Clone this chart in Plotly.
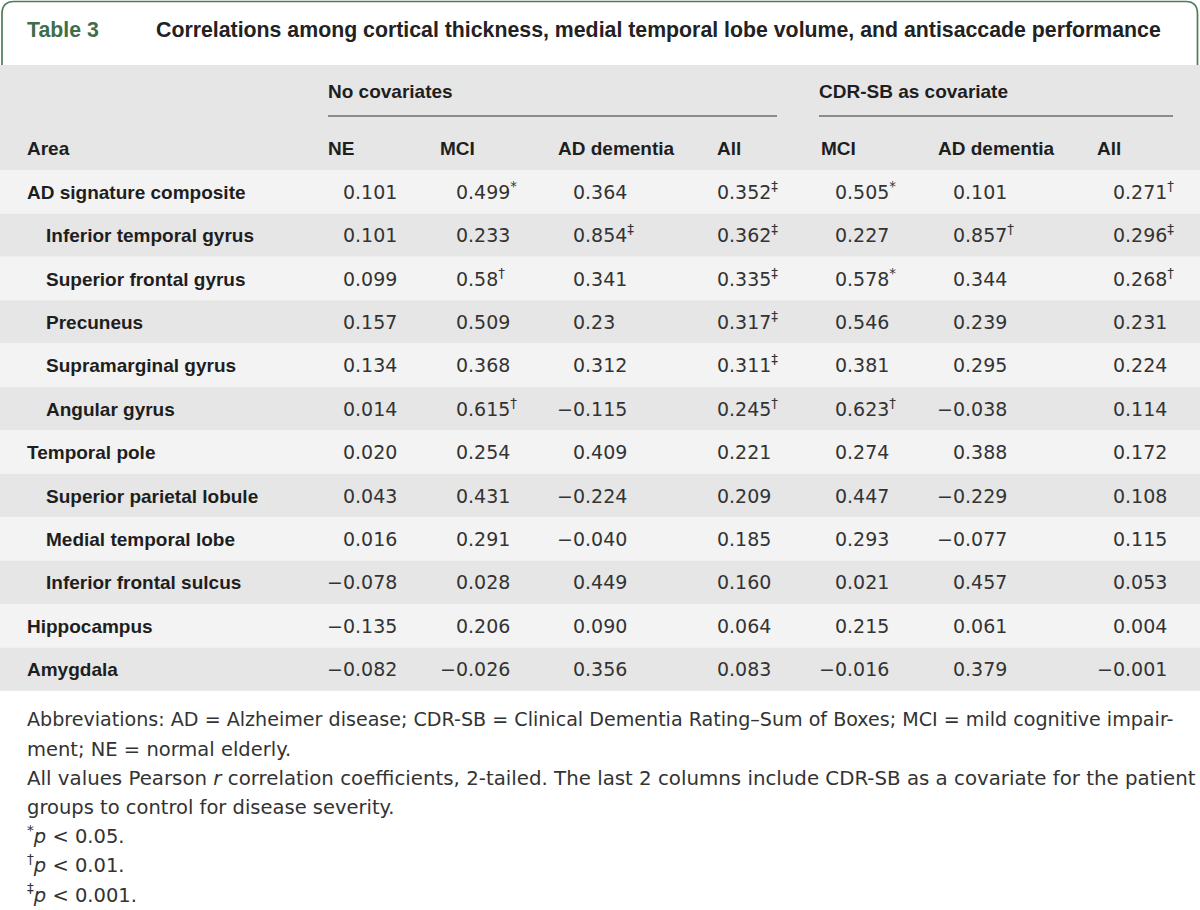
import plotly.graph_objects as go

# ---------------- data ----------------
areas = [
    "AD signature composite", "Inferior temporal gyrus", "Superior frontal gyrus",
    "Precuneus", "Supramarginal gyrus", "Angular gyrus", "Temporal pole",
    "Superior parietal lobule", "Medial temporal lobe", "Inferior frontal sulcus",
    "Hippocampus", "Amygdala",
]
area_level = [0, 1, 1, 1, 1, 1, 0, 1, 1, 1, 0, 0]

ne = ["0.101", "0.101", "0.099", "0.157", "0.134", "0.014", "0.020", "0.043", "0.016", "-0.078", "-0.135", "-0.082"]
mci = ["0.499*", "0.233", "0.58†", "0.509", "0.368", "0.615†", "0.254", "0.431", "0.291", "0.028", "0.206", "-0.026"]
ad_dementia = ["0.364", "0.854‡", "0.341", "0.23", "0.312", "-0.115", "0.409", "-0.224", "-0.040", "0.449", "0.090", "0.356"]
all_groups = ["0.352‡", "0.362‡", "0.335‡", "0.317‡", "0.311‡", "0.245†", "0.221", "0.209", "0.185", "0.160", "0.064", "0.083"]
cdr_mci = ["0.505*", "0.227", "0.578*", "0.546", "0.381", "0.623†", "0.274", "0.447", "0.293", "0.021", "0.215", "-0.016"]
cdr_ad_dementia = ["0.101", "0.857†", "0.344", "0.239", "0.295", "-0.038", "0.388", "-0.229", "-0.077", "0.457", "0.061", "0.379"]
cdr_all = ["0.271†", "0.296‡", "0.268†", "0.231", "0.224", "0.114", "0.172", "0.108", "0.115", "0.053", "0.004", "-0.001"]

columns = [ne, mci, ad_dementia, all_groups, cdr_mci, cdr_ad_dementia, cdr_all]
column_labels = ["NE", "MCI", "AD dementia", "All", "MCI", "AD dementia", "All"]
group_labels = ["No covariates", "CDR-SB as covariate"]
first_col_label = "Area"

table_label = "Table 3"
title = "Correlations among cortical thickness, medial temporal lobe volume, and antisaccade performance"

footnotes = [
    "Abbreviations: AD = Alzheimer disease; CDR-SB = Clinical Dementia Rating–Sum of Boxes; MCI = mild cognitive impair-",
    "ment; NE = normal elderly.",
    "All values Pearson <i>r</i> correlation coefficients, 2-tailed. The last 2 columns include CDR-SB as a covariate for the patient",
    "groups to control for disease severity.",
    "<sup>*</sup><i>p</i> &lt; 0.05.",
    "<sup>†</sup><i>p</i> &lt; 0.01.",
    "<sup>‡</sup><i>p</i> &lt; 0.001.",
]

# ---------------- layout / style ----------------
W, H = 1200, 910
HEADER_TOP = 65
BODY_TOP = 170
ROW_H = 43.4
TEXT_DY = 2.3
LABEL_X = [27, 46]
HEAD_X = [328, 440, 558, 717, 821, 938, 1097]
DEC_X = [355, 468, 585, 729, 847, 965, 1125]
GROUP_SPAN = [(328, 777), (819, 1173)]
GROUP_Y = 93
COLHEAD_Y = 150.5
FOOT_Y0 = 721.5
FOOT_LH = 29.2
FOOT_SIZES = [19.1, 19.5, 19.8, 19.5, 19.5, 19.5, 19.5]

BOLD = "Liberation Sans"
NUM = "DejaVu Sans"
GREEN = "#4c7d58"
GRAY_DARK = "#e6e6e6"
GRAY_LIGHT = "#f3f3f3"
TXT = "#1e1e1e"
NUMTXT = "#333333"

fig = go.Figure()

shapes = []
# tab border
shapes.append(dict(type="path",
                   path=f"M 2,{HEADER_TOP} L 2,14 Q 2,1.5 14,1.5 L 1186,1.5 Q 1197.5,1.5 1197.5,14 L 1197.5,{HEADER_TOP}",
                   line=dict(color=GREEN, width=1.7), xref="x", yref="y", layer="above"))
# header background
shapes.append(dict(type="rect", x0=0, x1=W, y0=HEADER_TOP, y1=BODY_TOP,
                   fillcolor=GRAY_DARK, line=dict(width=0), xref="x", yref="y", layer="below"))
# row backgrounds
for i in range(len(areas)):
    shapes.append(dict(type="rect", x0=0, x1=W, y0=BODY_TOP + i * ROW_H, y1=BODY_TOP + (i + 1) * ROW_H,
                       fillcolor=GRAY_LIGHT if i % 2 == 0 else GRAY_DARK,
                       line=dict(width=0), xref="x", yref="y", layer="below"))
# group underlines
for x0, x1 in GROUP_SPAN:
    shapes.append(dict(type="line", x0=x0, x1=x1, y0=116, y1=116,
                       line=dict(color="#8c8c8c", width=2), xref="x", yref="y"))

fig.update_layout(shapes=shapes)


def text_trace(xs, ys, texts, family, size, color, pos):
    fig.add_trace(go.Scatter(x=xs, y=ys, text=texts, mode="text", textposition=pos,
                             textfont=dict(family=family, size=size, color=color),
                             hoverinfo="skip", showlegend=False))


# title line
text_trace([27], [32], [f"<b>{table_label}</b>"], BOLD, 21.3, "#3f6e4a", "middle right")
text_trace([156], [32], [f"<b>{title}</b>"], BOLD, 21.3, "#222222", "middle right")

# group headers
text_trace([g[0] for g in GROUP_SPAN], [GROUP_Y] * 2, [f"<b>{g}</b>" for g in group_labels],
           BOLD, 19, TXT, "middle right")
# column headers
text_trace([LABEL_X[0]] + HEAD_X, [COLHEAD_Y] * (len(HEAD_X) + 1),
           [f"<b>{c}</b>" for c in [first_col_label] + column_labels], BOLD, 19, TXT, "middle right")

# row labels
row_y = [BODY_TOP + (i + 0.5) * ROW_H + TEXT_DY for i in range(len(areas))]
text_trace([LABEL_X[lvl] for lvl in area_level], row_y, [f"<b>{a}</b>" for a in areas],
           BOLD, 19, TXT, "middle right")


def split_value(s):
    mark = ""
    while s and s[-1] in "*†‡":
        mark = s[-1] + mark
        s = s[:-1]
    neg = s.startswith("-")
    s = s.lstrip("-")
    ip, fp = s.split(".")
    ip = ("−" if neg else "") + ip
    fp = "." + fp + (f"<sup>{mark}</sup>" if mark else "")
    return ip, fp


for c, col in enumerate(columns):
    parts = [split_value(v) for v in col]
    text_trace([DEC_X[c]] * len(col), row_y, [p[0] for p in parts], NUM, 19, NUMTXT, "middle left")
    text_trace([DEC_X[c]] * len(col), row_y, [p[1] for p in parts], NUM, 19, NUMTXT, "middle right")

# footnotes
for k, line in enumerate(footnotes):
    text_trace([LABEL_X[0]], [FOOT_Y0 + k * FOOT_LH], [line], NUM, FOOT_SIZES[k], "#333333", "middle right")

fig.update_layout(
    width=W, height=H, autosize=False,
    margin=dict(l=0, r=0, t=0, b=0, pad=0),
    paper_bgcolor="white", plot_bgcolor="white",
    xaxis=dict(range=[0, W], visible=False, fixedrange=True),
    yaxis=dict(range=[H, 0], visible=False, fixedrange=True),
    showlegend=False,
)

fig.write_html("out.html", config={"displayModeBar": False},
               post_script="document.body.style.margin='0';")
